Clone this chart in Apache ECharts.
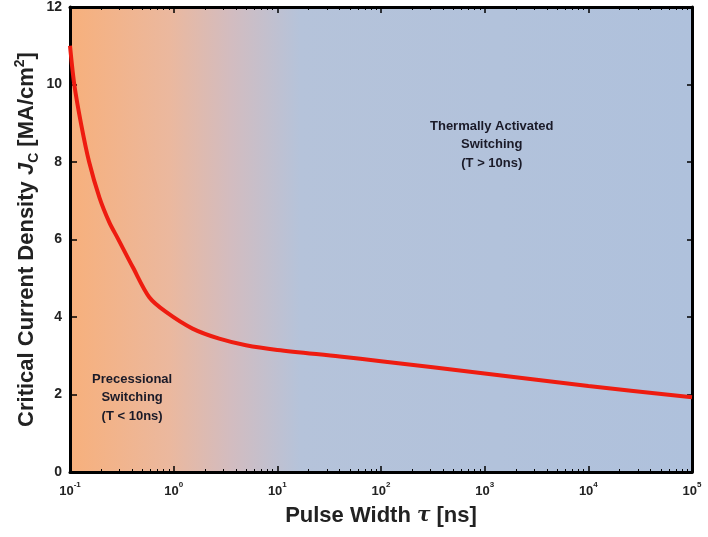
<!DOCTYPE html>
<html><head><meta charset="utf-8">
<script src="https://cdn.jsdelivr.net/npm/echarts@6/dist/echarts.min.js"></script>
<style>html,body{margin:0;padding:0;background:#fff}#c{width:708px;height:537px}</style>
</head><body><div id="c"></div>
<script>
// Data
var pulseWidth = [0.1, 0.11, 0.128, 0.153, 0.192, 0.239, 0.289, 0.403, 0.582, 0.843, 1.52, 2.75, 4.98, 10, 40, 100, 1000, 10000, 100000];
var jc =         [11.0, 10.0, 8.98, 8.0,   7.09,  6.45,  6.03,  5.29,  4.51,  4.13,  3.70, 3.44, 3.27, 3.15, 2.98, 2.86, 2.54, 2.22, 1.93];
var xTickExp = ['-1', '0', '1', '2', '3', '4', '5'];
var yTicks = [0, 2, 4, 6, 8, 10, 12];
var labelHigh = 'Thermally Activated\nSwitching\n(T > 10ns)';
var labelLow = 'Precessional\nSwitching\n(T < 10ns)';

var seriesData = pulseWidth.map(function (t, i) { return [t, jc[i]]; });
var FONT = 'Liberation Sans, Arial, sans-serif';
var frame = { show: true, onZero: false, lineStyle: { color: '#000', width: 3 } };

var chart = echarts.init(document.getElementById('c'));
chart.setOption({
  animation: false,
  grid: {
    left: 70, right: 16, top: 6, bottom: 65, show: true, borderWidth: 0,
    backgroundColor: new echarts.graphic.LinearGradient(0, 0, 1, 0, [
      { offset: 0, color: '#f7b07c' },
      { offset: 0.16, color: '#ebb89e' },
      { offset: 0.26, color: '#d2bcc0' },
      { offset: 0.37, color: '#b5c3da' },
      { offset: 1, color: '#afc1dc' }
    ])
  },
  xAxis: [{
    type: 'log', logBase: 10, min: 0.1, max: 100000, position: 'bottom',
    axisLine: frame,
    axisTick: { show: true, inside: true, length: 6, lineStyle: { color: '#000', width: 1.5 } },
    minorTick: { show: true, splitNumber: 9, length: 3, lineStyle: { color: '#000', width: 1 } },
    splitLine: { show: false }, minorSplitLine: { show: false },
    axisLabel: {
      margin: 9, color: '#222', fontFamily: FONT, fontWeight: 'bold', fontSize: 13,
      formatter: function (v) {
        var e = Math.round(Math.log(v) / Math.LN10);
        return '{b|10}{s|' + xTickExp[e + 1] + '}';
      },
      rich: {
        b: { fontFamily: FONT, fontWeight: 'bold', fontSize: 13, color: '#222', lineHeight: 17, verticalAlign: 'bottom' },
        s: { fontFamily: FONT, fontWeight: 'bold', fontSize: 8, color: '#222', lineHeight: 17, verticalAlign: 'top' }
      }
    },
    name: 'Pulse Width {t|τ} [ns]', nameLocation: 'middle', nameGap: 33, nameMoveOverlap: false,
    nameTextStyle: {
      fontFamily: FONT, fontWeight: 'bold', fontSize: 22, color: '#222',
      rich: { t: { fontFamily: 'DejaVu Serif, serif', fontStyle: 'italic', fontWeight: 'bold', fontSize: 20, color: '#222' } }
    }
  }, {
    type: 'log', logBase: 10, min: 0.1, max: 100000, position: 'top',
    axisLine: frame,
    axisTick: { show: true, inside: true, length: 6, lineStyle: { color: '#000', width: 1.5 } },
    minorTick: { show: true, splitNumber: 9, length: 3, lineStyle: { color: '#000', width: 1 } },
    splitLine: { show: false }, axisLabel: { show: false }
  }],
  yAxis: [{
    type: 'value', min: 0, max: 12, interval: 2, position: 'left',
    axisLine: frame,
    axisTick: { show: true, inside: true, length: 7, lineStyle: { color: '#000', width: 1.5 } },
    splitLine: { show: false },
    axisLabel: {
      margin: 8, color: '#222', fontFamily: FONT, fontWeight: 'bold', fontSize: 14,
      formatter: function (v) { return yTicks.indexOf(v) >= 0 ? String(v) : ''; }
    },
    name: 'Critical Current Density {i|J}{sub|C} [MA/cm{sup|2}]', nameLocation: 'middle', nameGap: 29, nameMoveOverlap: false,
    nameTextStyle: {
      fontFamily: FONT, fontWeight: 'bold', fontSize: 22, color: '#222', lineHeight: 28,
      rich: {
        i: { fontFamily: FONT, fontStyle: 'italic', fontWeight: 'bold', fontSize: 22, color: '#222', lineHeight: 28 },
        sub: { fontFamily: FONT, fontWeight: 'bold', fontSize: 14, color: '#222', lineHeight: 28, verticalAlign: 'bottom' },
        sup: { fontFamily: FONT, fontWeight: 'bold', fontSize: 14, color: '#222', lineHeight: 28, verticalAlign: 'top' }
      }
    }
  }, {
    type: 'value', min: 0, max: 12, interval: 2, position: 'right',
    axisLine: frame,
    axisTick: { show: true, inside: true, length: 5, lineStyle: { color: '#000', width: 1.5 } },
    splitLine: { show: false }, axisLabel: { show: false }
  }],
  series: [{
    type: 'line', xAxisIndex: 0, yAxisIndex: 0, data: seriesData,
    smooth: 0.3, showSymbol: false,
    lineStyle: { color: '#ee1c10', width: 4 }
  }],
  graphic: [{
    type: 'text', left: 430, top: 117,
    style: { text: labelHigh, fontFamily: FONT, fontWeight: 'bold', fontSize: 13, fill: '#1a1a28', textAlign: 'center', lineHeight: 18.5 }
  }, {
    type: 'text', left: 92, top: 370,
    style: { text: labelLow, fontFamily: FONT, fontWeight: 'bold', fontSize: 13, fill: '#1a1a28', textAlign: 'center', lineHeight: 18.5 }
  }]
});
</script></body></html>
